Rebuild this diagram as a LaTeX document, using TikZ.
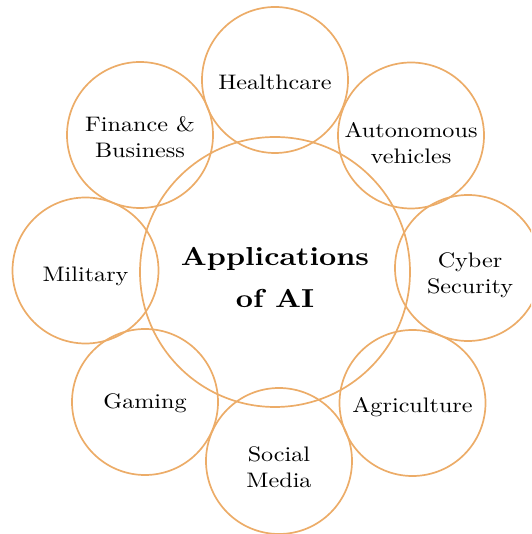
\documentclass[tikz,border=0pt]{standalone}
\usepackage{fontspec}
\setmainfont{lmroman10-regular}[Extension=.otf, BoldFont=lmroman10-bold, FakeStretch=1.15]
\definecolor{ring}{RGB}{236,172,104}
\tikzset{
  app/.style={circle, draw=ring, line width=1.7pt, minimum size=146pt, inner sep=0pt},
  hub/.style={circle, draw=ring, line width=1.7pt, minimum size=270pt, inner sep=0pt},
  apptext/.style={align=center, inner sep=0pt, font=\fontsize{21}{26}\selectfont, text=black},
  hubtext/.style={align=center, inner sep=0pt, font=\fontsize{26}{42}\selectfont\bfseries, text=black}
}
\begin{document}
\begin{tikzpicture}[x=1pt,y=1pt]
\useasboundingbox (0,0) rectangle (531,534);
\begin{scope}
\clip (0,0) rectangle (531,534);
\node[hub] (hub) at (275,262) {};
\node[app] (health) at (275,454) {};
\node[app] (auto) at (411,398.5) {};
\node[app] (cyber) at (468,266) {};
\node[app] (agri) at (412.5,131) {};
\node[app] (social) at (279,73) {};
\node[app] (gaming) at (145,132) {};
\node[app] (military) at (85.5,263.5) {};
\node[app] (finance) at (140,399) {};
\end{scope}
\node[hubtext, yshift=-6pt] (hubt) at (hub) {Applications\\of AI};
\node[apptext, yshift=-2pt] (healtht) at (health) {Healthcare};
\node[apptext, yshift=-8pt] (autot) at (auto) {Autonomous\\vehicles};
\node[apptext, yshift=-7pt, xshift=2pt] (cybert) at (cyber) {Cyber\\Security};
\node[apptext, yshift=-4pt] (agrit) at (agri) {Agriculture};
\node[apptext, yshift=-6pt] (socialt) at (social) {Social\\Media};
\node[apptext, yshift=-1pt] (gamingt) at (gaming) {Gaming};
\node[apptext, yshift=-6pt] (militaryt) at (military) {Military};
\node[apptext, yshift=-2.5pt] (financet) at (finance) {Finance \&\\Business};
\end{tikzpicture}
\end{document}
